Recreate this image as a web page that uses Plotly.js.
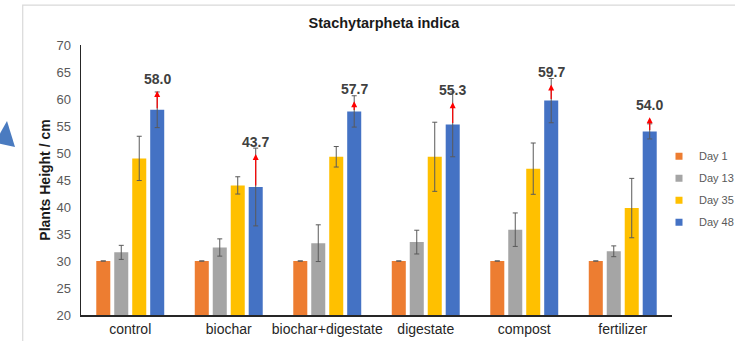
<!DOCTYPE html>
<html>
<head>
<meta charset="utf-8">
<script src="https://cdn.plot.ly/plotly-3.0.1.min.js"></script>
<style>html,body{margin:0;padding:0;background:#fff;}#chart{width:735px;height:341px;}</style>
</head>
<body>
<div id="chart"></div>
<script>
// ---- data ----
const categories = ["control", "biochar", "biochar+digestate", "digestate", "compost", "fertilizer"];
const seriesNames = ["Day 1", "Day 13", "Day 35", "Day 48"];
const day1  = [30.0, 30.0, 30.0, 30.0, 30.0, 30.0];
const day13 = [31.6, 32.5, 33.3, 33.5, 35.8, 31.8];
const day35 = [49.0, 44.0, 49.3, 49.3, 47.1, 39.8];
const day48 = [58.0, 43.7, 57.7, 55.3, 59.7, 54.0];
const err1  = [0, 0, 0, 0, 0, 0];
const err13 = [1.3, 1.6, 3.4, 2.2, 3.1, 1.0];
const err35 = [4.1, 1.6, 1.9, 6.4, 4.75, 5.5];
const err48 = [3.3, 7.2, 2.9, 6.0, 4.1, 1.4];
const arrowTip = [61.5, 49.8, 59.6, 59.4, 62.7, 56.6];
const labelText = ["58.0", "43.7", "57.7", "55.3", "59.7", "54.0"];
const yTicks = [20, 25, 30, 35, 40, 45, 50, 55, 60, 65, 70];

const colors = ["#ED7D31", "#A5A5A5", "#FFC000", "#4472C4"];
const values = [day1, day13, day35, day48];
const errs = [err1, err13, err35, err48];

const bargap = 0.27;
const traces = values.map((v, i) => ({
  type: "bar",
  x: categories,
  y: v,
  name: seriesNames[i],
  showlegend: false,
  marker: {color: colors[i], line: {width: 0}},
  error_y: {type: "data", array: errs[i], visible: true, color: "#5a5a5a", thickness: 1, width: 2.5}
}));
// legend entries with small square markers
seriesNames.forEach((n, i) => traces.push({
  type: "scatter", mode: "markers", x: [null], y: [null], name: n,
  legendgroup: "g" + i,
  marker: {symbol: "square", size: 7, color: colors[i]}
}));

// blue-bar offset within each category (4 bars per group)
const slot = (1 - bargap) / 4;
const blueOffset = 1.5 * slot;

const annotations = [];
categories.forEach((c, i) => {
  const xb = i + blueOffset;
  annotations.push({
    x: xb, y: arrowTip[i], xref: "x", yref: "y",
    ax: xb, ay: day48[i], axref: "x", ayref: "y",
    showarrow: true, arrowhead: 2, arrowsize: 1, arrowwidth: 1.2, arrowcolor: "#FF0000",
    standoff: 0, startstandoff: 0, text: ""
  });
  annotations.push({
    x: xb, y: arrowTip[i], xref: "x", yref: "y",
    text: "<b>" + labelText[i] + "</b>", showarrow: false,
    yanchor: "bottom", yshift: 2,
    font: {family: "Liberation Sans, Arial, sans-serif", size: 14, color: "#404040"}
  });
});

const layout = {
  width: 735, height: 341,
  margin: {l: 81, r: 63, t: 45, b: 26, pad: 0, autoexpand: false},
  paper_bgcolor: "#ffffff", plot_bgcolor: "#ffffff",
  font: {family: "Liberation Sans, Arial, sans-serif", color: "#595959"},
  title: {
    text: "<b>Stachytarpheta indica</b>",
    font: {family: "Liberation Sans, Arial, sans-serif", size: 14.5, color: "#1a1a1a"},
    xref: "container", yref: "container", x: 0.5224, y: 0.933, xanchor: "center", yanchor: "middle"
  },
  barmode: "group", bargap: bargap, bargroupgap: 0.22,
  xaxis: {
    showline: true, linecolor: "#262626", linewidth: 2, ticks: "",
    showgrid: false, zeroline: false,
    tickfont: {size: 14, color: "#262626"}
  },
  yaxis: {
    range: [20, 70], tickvals: yTicks, ticktext: yTicks.map(String),
    showline: true, linecolor: "#262626", linewidth: 1.5, ticks: "",
    showgrid: false, zeroline: false, ticklabelstandoff: 6,
    tickfont: {size: 13, color: "#595959"},
    title: {text: "<b>Plants Height / cm</b>", font: {size: 14, color: "#1a1a1a"}, standoff: 2}
  },
  legend: {
    xref: "container", x: 0.8966, y: 0.642, xanchor: "left", yanchor: "top",
    font: {size: 11, color: "#595959"}, traceorder: "grouped", tracegroupgap: 3,
    bgcolor: "rgba(0,0,0,0)"
  },
  shapes: [
    {type: "rect", xref: "paper", yref: "paper", x0: -0.0986, x1: 1.2, y0: -0.2, y1: 1.148,
     line: {color: "#d9d9d9", width: 1.2}, fillcolor: "rgba(0,0,0,0)", layer: "below"},
    {type: "path", xref: "paper", yref: "paper",
     path: "M " + ((7-81)/591) + " " + ((315.7-121.5)/270.4) +
           " L " + ((15-81)/591) + " " + ((315.7-147.5)/270.4) +
           " L " + ((-5-81)/591) + " " + ((315.7-143)/270.4) + " Z",
     fillcolor: "#4A7BC0", line: {width: 0}}
  ],
  annotations: annotations,
  showlegend: true
};

Plotly.newPlot("chart", traces, layout, {displayModeBar: false, staticPlot: true});
</script>
</body>
</html>
